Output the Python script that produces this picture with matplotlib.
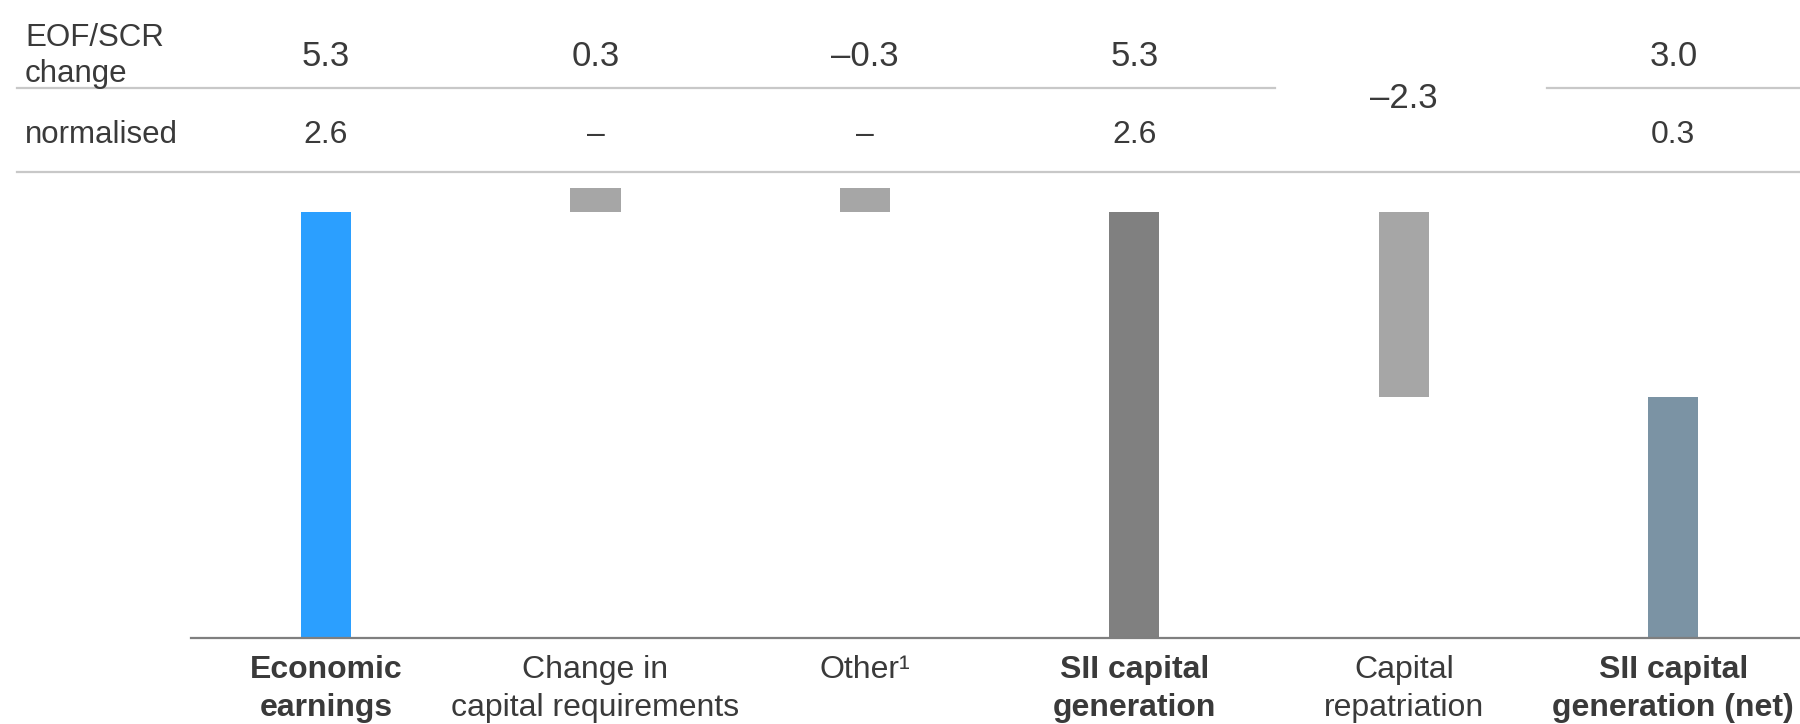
import matplotlib.pyplot as plt
from matplotlib.transforms import blended_transform_factory

plt.rcParams['font.family'] = ['Liberation Sans', 'DejaVu Sans']

# waterfall: SII capital generation
categories = ['Economic\nearnings', 'Change in\ncapital requirements', 'Other\u00b9',
              'SII capital\ngeneration', 'Capital\nrepatriation', 'SII capital\ngeneration (net)']
bold_label = [True, False, False, True, False, True]
eof_change = [5.3, 0.3, -0.3, 5.3, -2.3, 3.0]
eof_text = ['5.3', '0.3', '\u20130.3', '5.3', '\u20132.3', '3.0']
normalised_text = ['2.6', '\u2013', '\u2013', '2.6', None, '0.3']
is_total = [False, False, False, True, False, True]
colors = ['#2B9FFF', '#A6A6A6', '#A6A6A6', '#808080', '#A6A6A6', '#7B93A4']

W, H = 1800, 724
txt = '#3A3A3A'
grid = '#C8C8C8'

def fy(px):
    return 1 - px / H

# bottoms and heights of the floating bars
bottoms, heights = [], []
running = 0.0
for v, tot in zip(eof_change, is_total):
    if tot:
        bottoms.append(0.0)
        heights.append(v)
        running = v
    else:
        bottoms.append(running if v > 0 else running + v)
        heights.append(abs(v))
        running += v

fig = plt.figure(figsize=(W / 100, H / 100), dpi=100)
ax = fig.add_axes([0, fy(638), 1, (638 - 172) / H])
x = list(range(len(categories)))
ax.bar(x, heights, bottom=bottoms, width=0.186, color=colors, zorder=2)

ax.set_xlim(-1.21, 5.47)
ax.set_ylim(0, (638 - 172) / 80.4)
for s in ['top', 'right', 'left']:
    ax.spines[s].set_visible(False)
ax.spines['bottom'].set_bounds(-0.5, 5.47)
ax.spines['bottom'].set_color('#7F7F7F')
ax.spines['bottom'].set_linewidth(1.6)
ax.set_yticks([])
ax.set_xticks([])

trans = blended_transform_factory(ax.transData, fig.transFigure)

# category labels under the axis
for i, (lab, b) in enumerate(zip(categories, bold_label)):
    ax.text(i, fy(655), lab, transform=trans, ha='center', va='top', fontsize=23,
            fontweight='bold' if b else 'normal', color=txt, linespacing=1.36)

# table rows above the chart
fig.text(25 / W, fy(56), 'EOF/SCR\nchange', ha='left', va='center', fontsize=22.5,
         color=txt, linespacing=1.24)
fig.text(25 / W, fy(135), 'normalised', ha='left', va='center', fontsize=22.5, color=txt)

for i, (t1, t2) in enumerate(zip(eof_text, normalised_text)):
    if t2 is None:
        ax.text(i, fy(99), t1, transform=trans, ha='center', va='center', fontsize=25, color=txt)
    else:
        ax.text(i, fy(57), t1, transform=trans, ha='center', va='center', fontsize=25, color=txt)
        ax.text(i, fy(135), t2, transform=trans, ha='center', va='center', fontsize=23, color=txt)

# separator lines, the first one broken where a value spans both rows
x_left, x_right = -1.147, 5.47
breaks = [i for i, t in enumerate(normalised_text) if t is None]
segs = []
start = x_left
for i in breaks:
    segs.append((start, i - 0.48))
    start = i + 0.53
segs.append((start, x_right))
for a, b in segs:
    ax.plot([a, b], [fy(88), fy(88)], transform=trans, color=grid, lw=1.6, clip_on=False)
ax.plot([x_left, x_right], [fy(172), fy(172)], transform=trans, color=grid, lw=1.6, clip_on=False)

fig.savefig('out.png', dpi=100)
